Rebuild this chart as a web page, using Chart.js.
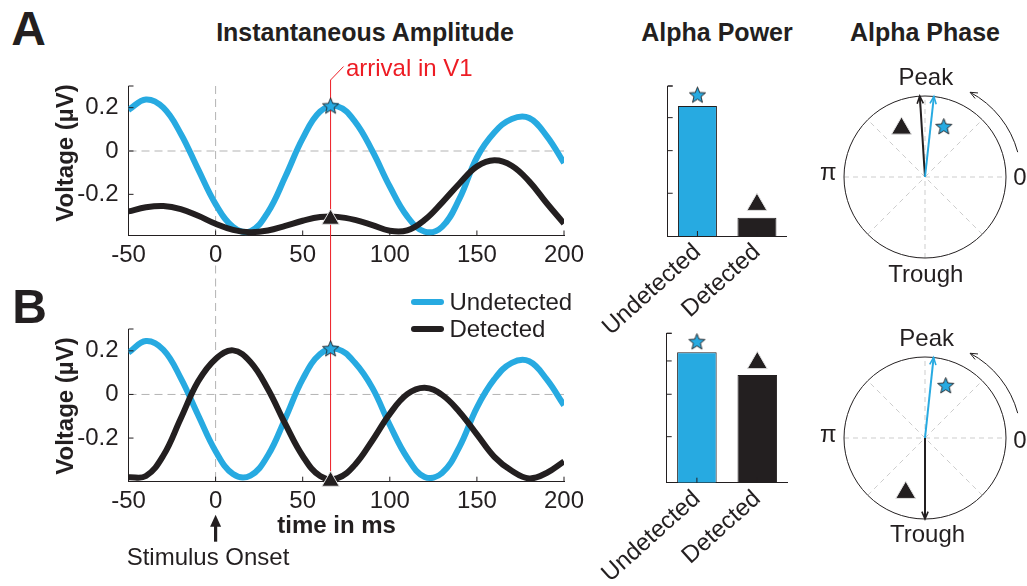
<!DOCTYPE html>
<html>
<head>
<meta charset="utf-8">
<title>Alpha amplitude, power and phase</title>
<script src="https://cdn.jsdelivr.net/npm/chart.js@4.4.0/dist/chart.umd.min.js"></script>
<style>
  html, body { margin: 0; padding: 0; background: #fff; }
  #fig { position: relative; width: 1027px; height: 586px; overflow: hidden;
         font-family: "Liberation Sans", Arial, Helvetica, sans-serif; color: #231f20; }
  #fig canvas { position: absolute; }
  .t { position: absolute; line-height: 1; white-space: nowrap; font-size: 24px;
       transform: translate(-50%, -50%); }
  .b { font-weight: bold; }
  .title { font-size: 25px; font-weight: bold; }
  .panel { font-size: 48px; font-weight: bold; }
  .left { transform: translate(0, -50%); }
  .rot { transform: translate(-50%, -50%) rotate(-90deg); }
  .key { position: absolute; height: 6px; border-radius: 3px; }
</style>
</head>
<body>
<div id="fig">
  <canvas id="lineA" width="590" height="230" style="left:0;top:60px"></canvas>
  <canvas id="lineB" width="590" height="296" style="left:0;top:290px"></canvas>
  <canvas id="barA" width="210" height="280" style="left:590px;top:60px"></canvas>
  <canvas id="barB" width="210" height="286" style="left:590px;top:300px"></canvas>
  <canvas id="phaseA" width="222" height="222" style="left:813.5px;top:65.5px"></canvas>
  <canvas id="phaseB" width="222" height="222" style="left:814.3px;top:326.5px"></canvas>

  <div class="t panel" style="left:28.5px;top:29px">A</div>
  <div class="t panel" style="left:29.6px;top:307px">B</div>
  <div class="t title" style="left:365px;top:32.3px">Instantaneous Amplitude</div>
  <div class="t title" style="left:717px;top:32.3px">Alpha Power</div>
  <div class="t title" style="left:925px;top:32.3px">Alpha Phase</div>
  <div class="t left" style="left:345.9px;top:68.3px;color:#ed1c24">arrival in V1</div>
  <div class="t b rot" style="left:64.7px;top:153.3px">Voltage (µV)</div>
  <div class="t b rot" style="left:64.7px;top:405.8px">Voltage (µV)</div>
  <div class="t b" style="left:336.6px;top:525px">time in ms</div>
  <div class="t" style="left:208px;top:556.7px">Stimulus Onset</div>

  <div class="key" style="left:410.6px;top:298.7px;width:33.3px;background:#27aae1"></div>
  <div class="key" style="left:410.6px;top:326.3px;width:33.3px;background:#231f20"></div>
  <div class="t left" style="left:449.4px;top:301.7px">Undetected</div>
  <div class="t left" style="left:449.4px;top:329.3px">Detected</div>

  <div class="t" style="left:925.8px;top:77px">Peak</div>
  <div class="t" style="left:925.8px;top:273.7px">Trough</div>
  <div class="t" style="left:828.3px;top:172px">π</div>
  <div class="t" style="left:1020px;top:177.3px">0</div>
  <div class="t" style="left:926.7px;top:338.3px">Peak</div>
  <div class="t" style="left:927.5px;top:534px">Trough</div>
  <div class="t" style="left:828.3px;top:434px">π</div>
  <div class="t" style="left:1020px;top:440px">0</div>
</div>

<script>
// --- data ---
const times = [-50, -40, -30, -20, -10, 0, 10, 20, 30, 40, 50, 60, 70, 80, 90, 100, 110, 120, 130, 140, 150, 160, 170, 180, 190, 200];
const undetectedA = [0.19, 0.238, 0.20, 0.08, -0.085, -0.245, -0.35, -0.37, -0.283, -0.119, 0.058, 0.182, 0.206, 0.136, 0.0, -0.164, -0.302, -0.372, -0.35, -0.22, -0.03, 0.085, 0.148, 0.152, 0.07, -0.055];
const detectedA = [-0.279, -0.26, -0.254, -0.268, -0.299, -0.336, -0.364, -0.375, -0.367, -0.346, -0.322, -0.305, -0.304, -0.318, -0.342, -0.368, -0.366, -0.318, -0.238, -0.15, -0.072, -0.043, -0.068, -0.14, -0.24, -0.335];
const undetectedB = [0.192, 0.245, 0.205, 0.075, -0.095, -0.26, -0.365, -0.372, -0.28, -0.11, 0.07, 0.185, 0.208, 0.145, 0.03, -0.14, -0.29, -0.378, -0.36, -0.24, -0.06, 0.07, 0.145, 0.152, 0.07, -0.05];
const detectedB = [-0.38, -0.374, -0.28, -0.11, 0.06, 0.163, 0.202, 0.149, 0.025, -0.135, -0.282, -0.374, -0.384, -0.322, -0.211, -0.089, 0.001, 0.031, -0.002, -0.08, -0.183, -0.286, -0.35, -0.385, -0.36, -0.307];
const voltTicks = [-0.2, 0, 0.2];
const arrivalTime = 66;
const arrivalMarkA = [0.208, -0.315];   // star, triangle
const arrivalMarkB = [0.21, -0.398];

const conditions = ['Undetected', 'Detected'];
const powerA = [0.867, 0.122];
const powerB = [0.873, 0.721];
const powerMarkA = [0.94, 0.209];
const powerMarkB = [0.944, 0.802];
const powerTicksA = [0.285, 0.569, 0.789, 1];
const powerTicksB = [0.308, 0.592, 0.815, 1];

// phase angle in degrees (0 = right, 90 = peak, 270 = trough): [undetected, detected]
const phaseA = [83.7, 93.7];
const phaseB = [83.9, 270];
const phaseStarA = [0.232, 0.623];
const phaseTriA = [-0.29, 0.60];
const phaseStarB = [0.256, 0.648];
const phaseTriB = [-0.238, -0.675];

// --- styles ---
const FONT = '"Liberation Sans", Arial, Helvetica, sans-serif';
const BLUE = '#27aae1', INK = '#231f20', RED = '#ed1c24', DASH = '#b3b3b3';
Chart.defaults.font.family = FONT;
Chart.defaults.color = INK;

function seg(ctx, x1, y1, x2, y2) {
  ctx.beginPath(); ctx.moveTo(x1, y1); ctx.lineTo(x2, y2); ctx.stroke();
}

// chevron arrow head pointing along (ux, uy)
function head(ctx, x, y, ux, uy, len, w) {
  const s = Math.sin(0.4), c = Math.cos(0.4);
  const bx = -ux, by = -uy;
  ctx.lineWidth = w;
  ctx.beginPath();
  ctx.moveTo(x + len * (bx * c - by * s), y + len * (bx * s + by * c));
  ctx.lineTo(x, y);
  ctx.lineTo(x + len * (bx * c + by * s), y + len * (-bx * s + by * c));
  ctx.stroke();
}

function makeStar(fill) {
  const c = document.createElement('canvas');
  c.width = 19; c.height = 19;
  const g = c.getContext('2d');
  g.beginPath();
  for (let k = 0; k < 10; k++) {
    const a = -Math.PI / 2 + k * Math.PI / 5;
    const r = k % 2 ? 3.7 : 8.5;
    g.lineTo(9.5 + r * Math.cos(a), 10 + r * Math.sin(a));
  }
  g.closePath();
  g.fillStyle = fill; g.fill();
  g.lineWidth = 0.9; g.strokeStyle = INK; g.stroke();
  return c;
}
const starImg = makeStar(BLUE);

// small inward tick marks, like the original axes
const inTicks = {
  id: 'inTicks',
  afterDraw(chart) {
    const { ctx, chartArea: a, scales: { x, y } } = chart;
    ctx.save();
    ctx.strokeStyle = INK; ctx.lineWidth = 1;
    x.ticks.forEach((t, i) => { const px = x.getPixelForTick(i); seg(ctx, px, a.bottom, px, a.bottom - 5); });
    y.ticks.forEach((t, i) => { const py = y.getPixelForTick(i); seg(ctx, a.left, py, a.left + 5, py); });
    seg(ctx, a.left, a.top, a.left + 5, a.top);
    ctx.restore();
  }
};

// zero lines, arrival line and stimulus arrow
const lineDeco = {
  id: 'lineDeco',
  beforeDatasetsDraw(chart, args, o) {
    const { ctx, chartArea: a, scales: { x, y } } = chart;
    const x0 = x.getPixelForValue(0), y0 = y.getPixelForValue(0);
    ctx.save();
    ctx.strokeStyle = DASH; ctx.lineWidth = 1; ctx.setLineDash([8, 5]);
    seg(ctx, a.left, y0, a.right, y0);
    if (o.top) {
      seg(ctx, x0, a.top, x0, a.bottom);
      seg(ctx, x0, a.bottom + 30, x0, chart.height);
    } else {
      seg(ctx, x0, 0, x0, a.bottom);
    }
    ctx.setLineDash([]);
    const xr = x.getPixelForValue(arrivalTime);
    ctx.strokeStyle = RED;
    if (o.top) {
      seg(ctx, xr, a.top - 6, xr, chart.height);
      seg(ctx, xr, a.top - 6, xr + 13, a.top - 19.5);
    } else {
      seg(ctx, xr, 0, xr, a.bottom);
    }
    ctx.restore();
  },
  afterDraw(chart, args, o) {
    if (!o.onset) return;
    const { ctx, chartArea: a, scales: { x } } = chart;
    const px = x.getPixelForValue(0);
    ctx.save();
    ctx.strokeStyle = INK; ctx.fillStyle = INK; ctx.lineWidth = 3.2;
    seg(ctx, px, a.bottom + 60, px, a.bottom + 42);
    ctx.beginPath();
    ctx.moveTo(px, a.bottom + 33);
    ctx.lineTo(px - 5.5, a.bottom + 45);
    ctx.lineTo(px + 5.5, a.bottom + 45);
    ctx.closePath(); ctx.fill();
    ctx.restore();
  }
};

function lineChart(id, und, det, mark, cfg) {
  const pts = v => times.map((t, i) => ({ x: t, y: v[i] }));
  return new Chart(document.getElementById(id), {
    type: 'line',
    data: {
      datasets: [
        { data: [{ x: arrivalTime, y: mark[0] }], showLine: false, pointStyle: starImg, pointRadius: 9, clip: false },
        { data: [{ x: arrivalTime, y: mark[1] }], showLine: false, pointStyle: 'triangle', pointRadius: 10,
          pointBackgroundColor: INK, pointBorderColor: '#e2e2e2', pointBorderWidth: 1, clip: false },
        { data: pts(det), borderColor: INK, borderWidth: 6, pointRadius: 0, tension: 0.4 },
        { data: pts(und), borderColor: BLUE, borderWidth: 6, pointRadius: 0, tension: 0.4 }
      ]
    },
    options: {
      responsive: false, animation: false, devicePixelRatio: 1,
      layout: { padding: { top: cfg.padTop, right: 26, left: 0, bottom: 0 } },
      plugins: { legend: { display: false }, tooltip: { enabled: false }, lineDeco: cfg },
      scales: {
        x: {
          type: 'linear', min: -50, max: 200,
          ticks: { stepSize: 50, maxRotation: 0, padding: 5, color: INK, font: { size: 24 } },
          grid: { display: false, drawTicks: false },
          border: { color: INK, width: 1 },
          afterFit: s => { s.height = cfg.xh; s.paddingLeft = 0; s.paddingRight = 0; }
        },
        y: {
          min: cfg.ymin, max: 0.3,
          afterBuildTicks: s => { s.ticks = voltTicks.map(v => ({ value: v })); },
          ticks: { padding: 10, color: INK, font: { size: 24 } },
          grid: { display: false, drawTicks: false },
          border: { color: INK, width: 1 },
          afterFit: s => { s.width = 128.5; }
        }
      }
    },
    plugins: [lineDeco, inTicks]
  });
}

function barChart(id, vals, mark, tickVals, cfg) {
  return new Chart(document.getElementById(id), {
    type: 'bar',
    data: {
      labels: conditions,
      datasets: [
        { type: 'line', data: mark, showLine: false, clip: false,
          pointStyle: [starImg, 'triangle'], pointRadius: [9, 11.5],
          pointBackgroundColor: [BLUE, INK], pointBorderColor: [INK, '#e2e2e2'], pointBorderWidth: [0, 1] },
        { data: vals, backgroundColor: [BLUE, INK], borderColor: INK, borderWidth: 1,
          barPercentage: 0.655, categoryPercentage: 1 }
      ]
    },
    options: {
      responsive: false, animation: false, devicePixelRatio: 1,
      layout: { padding: { top: cfg.padTop, right: cfg.padRight, left: 0, bottom: 0 } },
      plugins: { legend: { display: false }, tooltip: { enabled: false } },
      scales: {
        x: {
          ticks: { autoSkip: false, minRotation: 42, maxRotation: 42, padding: 2, color: INK, font: { size: 24 } },
          grid: { display: false, drawTicks: false },
          border: { color: INK, width: 1 },
          afterFit: s => { s.height = cfg.xh; s.paddingLeft = 0; s.paddingRight = 0; }
        },
        y: {
          min: 0, max: 1,
          afterBuildTicks: s => { s.ticks = tickVals.map(v => ({ value: v })); },
          ticks: { display: false },
          grid: { display: false, drawTicks: false },
          border: { color: INK, width: 1 },
          afterFit: s => { s.width = cfg.yw; }
        }
      }
    },
    plugins: [inTicks]
  });
}

// circle, dashed spokes, direction arrow, arrow heads
const phaseDeco = {
  id: 'phaseDeco',
  beforeDatasetsDraw(chart) {
    const { ctx, scales: { x, y } } = chart;
    const cx = x.getPixelForValue(0), cy = y.getPixelForValue(0), r = x.getPixelForValue(1) - cx;
    ctx.save();
    ctx.strokeStyle = '#cdcdcd'; ctx.lineWidth = 1; ctx.setLineDash([5, 4]);
    for (let k = 0; k < 4; k++) {
      const a = k * Math.PI / 4;
      seg(ctx, cx - r * Math.cos(a), cy + r * Math.sin(a), cx + r * Math.cos(a), cy - r * Math.sin(a));
    }
    ctx.setLineDash([]);
    ctx.strokeStyle = INK;
    ctx.beginPath(); ctx.arc(cx, cy, r, 0, 2 * Math.PI); ctx.stroke();
    const R = r * 1.185, a0 = 15 * Math.PI / 180, a1 = 62 * Math.PI / 180;
    ctx.beginPath(); ctx.arc(cx, cy, R, -a0, -a1, true); ctx.stroke();
    head(ctx, cx + R * Math.cos(a1), cy - R * Math.sin(a1), -Math.sin(a1), -Math.cos(a1), 8, 1);
    ctx.restore();
  },
  afterDatasetsDraw(chart) {
    const { ctx } = chart;
    ctx.save();
    [2, 3].forEach(i => {
      const m = chart.getDatasetMeta(i);
      const p0 = m.data[0], p1 = m.data[1];
      const dx = p1.x - p0.x, dy = p1.y - p0.y, L = Math.hypot(dx, dy);
      ctx.strokeStyle = chart.data.datasets[i].borderColor;
      head(ctx, p1.x, p1.y, dx / L, dy / L, 8, 1.6);
    });
    ctx.restore();
  }
};

function phaseChart(id, phase, star, tri) {
  const tip = d => [{ x: 0, y: 0 }, { x: Math.cos(d * Math.PI / 180), y: Math.sin(d * Math.PI / 180) }];
  return new Chart(document.getElementById(id), {
    type: 'scatter',
    data: {
      datasets: [
        { data: [{ x: star[0], y: star[1] }], pointStyle: starImg, pointRadius: 9 },
        { data: [{ x: tri[0], y: tri[1] }], pointStyle: 'triangle', pointRadius: 11.5,
          pointBackgroundColor: INK, pointBorderColor: '#e2e2e2', pointBorderWidth: 1 },
        { data: tip(phase[0]), showLine: true, borderColor: BLUE, borderWidth: 2, pointRadius: 0 },
        { data: tip(phase[1]), showLine: true, borderColor: INK, borderWidth: 2, pointRadius: 0 }
      ]
    },
    options: {
      responsive: false, animation: false, devicePixelRatio: 1,
      layout: { padding: 30 },
      plugins: { legend: { display: false }, tooltip: { enabled: false } },
      scales: {
        x: { type: 'linear', min: -1, max: 1, display: false },
        y: { type: 'linear', min: -1, max: 1, display: false }
      }
    },
    plugins: [phaseDeco]
  });
}

lineChart('lineA', undetectedA, detectedA, arrivalMarkA, { padTop: 26, xh: 54.5, ymin: -0.39, top: true });
lineChart('lineB', undetectedB, detectedB, arrivalMarkB, { padTop: 39, xh: 104.3, ymin: -0.4, top: false, onset: true });
barChart('barA', powerA, powerMarkA, powerTicksA, { padTop: 26, padRight: 13.3, xh: 104, yw: 77.7 });
barChart('barB', powerB, powerMarkB, powerTicksB, { padTop: 33.3, padRight: 11.7, xh: 103.3, yw: 76.7 });
phaseChart('phaseA', phaseA, phaseStarA, phaseTriA);
phaseChart('phaseB', phaseB, phaseStarB, phaseTriB);
</script>
</body>
</html>
